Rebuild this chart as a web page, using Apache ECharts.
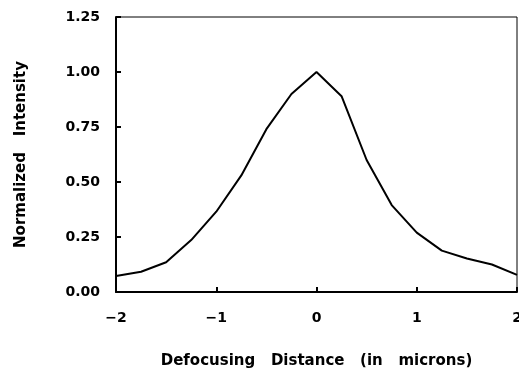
<!DOCTYPE html>
<html>
<head>
<meta charset="utf-8">
<script src="https://cdn.jsdelivr.net/npm/echarts@6/dist/echarts.min.js"></script>
<style>
  html, body { margin: 0; padding: 0; background: #fff; }
  #chart { width: 519px; height: 373px; }
</style>
</head>
<body>
<div id="chart"></div>
<script>
// defocus distance (microns) and normalized intensity
const distance = [-2, -1.75, -1.5, -1.25, -1, -0.75, -0.5, -0.25, 0, 0.25, 0.5, 0.75, 1, 1.25, 1.5, 1.75, 2];
const intensity = [0.073, 0.092, 0.135, 0.236, 0.365, 0.53, 0.74, 0.90, 1.0, 0.89, 0.60, 0.395, 0.27, 0.188, 0.152, 0.125, 0.078];

const FONT = 'DejaVu Sans';
const LABEL = { color: '#000', fontFamily: FONT, fontWeight: 'bold', fontSize: 14 };
const NAME = { color: '#000', fontFamily: FONT, fontWeight: 'bold', fontSize: 15 };

const chart = echarts.init(document.getElementById('chart'), null, { renderer: 'canvas' });

chart.setOption({
  animation: false,
  backgroundColor: '#fff',
  grid: {
    left: 116, right: 2, top: 17, bottom: 81,
    outerBoundsMode: 'none',
    containLabel: false,
    show: true, borderColor: '#000', borderWidth: 1
  },
  xAxis: {
    type: 'value',
    min: -2, max: 2, interval: 1,
    name: 'Defocusing   Distance   (in   microns)',
    nameLocation: 'middle',
    nameGap: 62,
    nameTextStyle: NAME,
    axisLine: { onZero: false, lineStyle: { color: '#000', width: 2 } },
    axisTick: { inside: true, length: 5, lineStyle: { color: '#000', width: 2 } },
    axisLabel: Object.assign({}, LABEL, {
      margin: 19,
      formatter: (v) => (v < 0 ? '\u2212' + Math.abs(v) : String(v))
    }),
    splitLine: { show: false }
  },
  yAxis: {
    type: 'value',
    min: 0, max: 1.25, interval: 0.25,
    name: 'Normalized   Intensity',
    nameLocation: 'middle',
    nameRotate: 90,
    nameGap: 87,
    nameTextStyle: NAME,
    axisLine: { onZero: false, lineStyle: { color: '#000', width: 2 } },
    axisTick: { inside: true, length: 5, lineStyle: { color: '#000', width: 2 } },
    axisLabel: Object.assign({}, LABEL, {
      margin: 16,
      formatter: (v) => v.toFixed(2)
    }),
    splitLine: { show: false }
  },
  series: [
    {
      type: 'line',
      data: distance.map((d, i) => [d, intensity[i]]),
      showSymbol: false,
      lineStyle: { color: '#000', width: 2 },
      itemStyle: { color: '#000' }
    }
  ]
});
</script>
</body>
</html>
